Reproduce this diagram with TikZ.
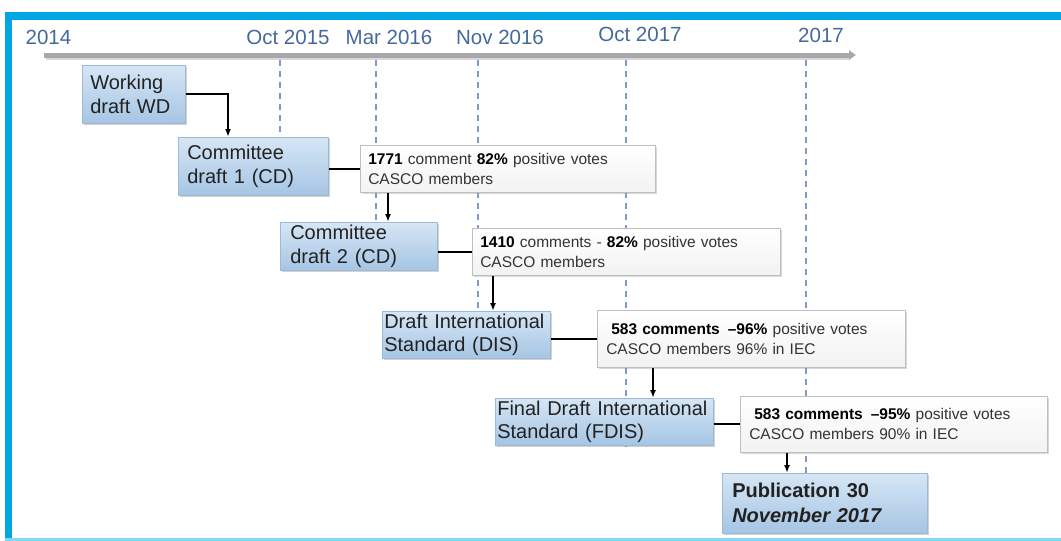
\documentclass[tikz,border=0pt]{standalone}
\usepackage{fontspec}
\setmainfont{Liberation Sans}
\usetikzlibrary{shadows,arrows.meta}
\definecolor{frameblue}{HTML}{00A6E4}
\definecolor{framelight}{HTML}{7FD8F5}
\definecolor{ticktext}{HTML}{46699C}
\definecolor{guideblue}{HTML}{7C9CC8}
\definecolor{stagetop}{HTML}{D6E6F5}
\definecolor{stagebot}{HTML}{A5C5E4}
\definecolor{stageedge}{HTML}{9DB9D6}
\definecolor{textdark}{HTML}{222222}
\definecolor{commtext}{HTML}{333333}
\definecolor{timegray}{HTML}{A8A8A8}
\tikzset{
  stagebox/.style={draw=stageedge, line width=0.6pt, top color=stagetop, bottom color=stagebot,
    drop shadow={opacity=0.35, shadow xshift=2pt, shadow yshift=-2pt},
    font=\fontsize{20}{23.5}\selectfont, text=textdark, align=left, anchor=north west,
    inner ysep=0pt},
  commentbox/.style={draw=gray!50, line width=0.6pt, top color=white, bottom color=gray!10,
    drop shadow={opacity=0.3, shadow xshift=2pt, shadow yshift=-2pt},
    font=\fontsize{15.5}{20}\selectfont, text=commtext, align=left, anchor=north west,
    inner ysep=0pt},
  ticklabel/.style={font=\fontsize{20.5}{24}\selectfont, text=ticktext, anchor=base, inner sep=0pt},
  guide/.style={draw=guideblue, line width=1.4pt, dash pattern=on 6pt off 5pt},
  conn/.style={draw=black, line width=1.8pt},
  arr/.style={conn, -{Latex[length=8pt,width=6pt]}},
}
\begin{document}
\begin{tikzpicture}[x=1pt,y=-1pt]
\useasboundingbox (0,0) rectangle (1061,541);
\fill[white] (0,0) rectangle (1061,541);
% frame
\fill[frameblue] (5,12) rectangle (1061,20);
\fill[frameblue] (5,12) rectangle (12,538);
\fill[framelight] (5,537.5) rectangle (1061,540.5);
% timeline
\draw[line width=5pt, draw=gray!80, opacity=0.4] (46,57.5) -- (850,57.5);
\draw[line width=5pt, draw=timegray, -{Triangle[length=7pt,width=9pt]}] (44,55) -- (856,55);
% tick labels
\node[ticklabel] (t2014) at (48.5,44) {2014};
\node[ticklabel] (toct15) at (288,44) {Oct 2015};
\node[ticklabel] (tmar16) at (389,44) {Mar 2016};
\node[ticklabel] (tnov16) at (500,44) {Nov 2016};
\node[ticklabel] (toct17) at (640,41) {Oct 2017};
\node[ticklabel] (t2017) at (821,42) {2017};
% guides
\draw[guide] (280,60) -- (280,137);
\draw[guide] (376,60) -- (376,222);
\draw[guide] (478,60) -- (478,311);
\draw[guide] (626,60) -- (626,447);
\draw[guide] (806,60) -- (806,473);
% stage boxes
\node[stagebox, inner xsep=8pt, text width=87pt, minimum height=58pt] (wd) at (82,65) {Working\\draft WD};
\node[stagebox, inner xsep=9pt, text width=132pt, minimum height=58pt] (cd1) at (178,137) {Committee\\draft 1 (CD)};
\node[stagebox, inner xsep=10pt, text width=137pt, minimum height=48pt] (cd2) at (280,222) {Committee\\draft 2 (CD)};
\node[stagebox, inner xsep=2pt, text width=164pt, minimum height=47pt] (dis) at (382,311) {Draft International\\Standard (DIS)};
\node[stagebox, inner xsep=2pt, text width=214pt, minimum height=47pt] (fdis) at (495,398) {Final Draft International\\Standard (FDIS)};
\node[stagebox, inner xsep=10pt, text width=185pt, minimum height=60pt, font=\fontsize{20}{25}\selectfont\bfseries] (pub) at (722,473) {Publication 30\\\textit{November 2017}};
% comment boxes
\node[commentbox, inner xsep=8pt, text width=279pt, minimum height=47pt] (c1) at (360,145)
  {\textbf{\color{black}1771} comment \textbf{\color{black}82\%} positive votes\\CASCO members};
\node[commentbox, inner xsep=8pt, text width=292pt, minimum height=47pt] (c2) at (472,228)
  {\textbf{\color{black}1410} comments - \textbf{\color{black}82\%} positive votes\\CASCO members};
\node[commentbox, inner xsep=9pt, text width=290pt, minimum height=57pt] (c3) at (597,310)
  {\hspace{5pt}\textbf{\color{black}583 comments}\hspace{8pt}\textbf{\color{black}–96\%} positive votes\\CASCO members 96\% in IEC};
\node[commentbox, inner xsep=9pt, text width=289pt, minimum height=56pt] (c4) at (740,396)
  {\hspace{5pt}\textbf{\color{black}583 comments}\hspace{8pt}\textbf{\color{black}–95\%} positive votes\\CASCO members 90\% in IEC};
% connectors
\draw[arr] (wd.east) -| ([xshift=50pt]cd1.north west);
\draw[conn] (cd1.east |- c1.west) -- (c1.west);
\draw[arr] ([xshift=28pt]c1.south west) -- ([xshift=28pt]c1.south west |- cd2.north);
\draw[conn] (cd2.east |- c2.west) -- (c2.west);
\draw[arr] ([xshift=21pt]c2.south west) -- ([xshift=21pt]c2.south west |- dis.north);
\draw[conn] (dis.east |- c3.west) -- (c3.west);
\draw[arr] ([xshift=56pt]c3.south west) -- ([xshift=56pt]c3.south west |- fdis.north);
\draw[conn] (fdis.east |- c4.west) -- (c4.west);
\draw[arr] ([xshift=47pt]c4.south west) -- ([xshift=47pt]c4.south west |- pub.north);
\end{tikzpicture}
\end{document}
